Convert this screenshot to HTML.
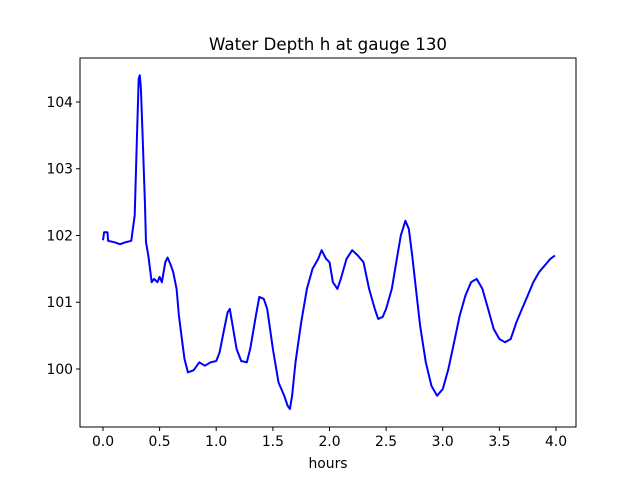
<!DOCTYPE html>
<html><head><style>
body{margin:0;background:#fff}
svg text{font-family:"DejaVu Sans","Liberation Sans",sans-serif;fill:#000}
</style></head><body>
<svg width="640" height="480" viewBox="0 0 640 480" xmlns="http://www.w3.org/2000/svg">
<rect width="640" height="480" fill="#fff"/>
<path id="line" d="" fill="none" stroke="#0000ff" stroke-width="2" stroke-linejoin="round"/>
<rect x="80" y="58" width="496" height="369" fill="none" stroke="#000" stroke-width="1"/>
<g stroke="#000" stroke-width="1">
<line x1="103" y1="427" x2="103" y2="431"/><line x1="159.6" y1="427" x2="159.6" y2="431"/>
<line x1="216.2" y1="427" x2="216.2" y2="431"/><line x1="272.9" y1="427" x2="272.9" y2="431"/>
<line x1="329.5" y1="427" x2="329.5" y2="431"/><line x1="386.1" y1="427" x2="386.1" y2="431"/>
<line x1="442.7" y1="427" x2="442.7" y2="431"/><line x1="499.4" y1="427" x2="499.4" y2="431"/>
<line x1="556" y1="427" x2="556" y2="431"/>
<line x1="76" y1="369" x2="80" y2="369"/><line x1="76" y1="302.25" x2="80" y2="302.25"/>
<line x1="76" y1="235.5" x2="80" y2="235.5"/><line x1="76" y1="168.75" x2="80" y2="168.75"/>
<line x1="76" y1="102" x2="80" y2="102"/>
</g>
<g font-size="13.9" text-anchor="middle">
<text x="103" y="446">0.0</text><text x="159.6" y="446">0.5</text><text x="216.2" y="446">1.0</text>
<text x="272.9" y="446">1.5</text><text x="329.5" y="446">2.0</text><text x="386.1" y="446">2.5</text>
<text x="442.7" y="446">3.0</text><text x="499.4" y="446">3.5</text><text x="556" y="446">4.0</text>
</g>
<g font-size="13.9" text-anchor="end">
<text x="73" y="374">100</text><text x="73" y="307">101</text><text x="73" y="240.5">102</text>
<text x="73" y="173.5">103</text><text x="73" y="107">104</text>
</g>
<text x="328" y="50" font-size="16.7" text-anchor="middle">Water Depth h at gauge 130</text>
<text x="328" y="468" font-size="13.9" text-anchor="middle">hours</text>
</svg>
<script>
var p=[0,101.93,0.01,102.05,0.04,102.05,0.045,101.92,0.1,101.9,0.15,101.87,0.2,101.9,0.25,101.92,0.26,102.05,0.28,102.3,0.3,103.5,0.315,104.35,0.325,104.4,0.335,104.2,0.35,103.5,0.37,102.5,0.38,101.9,0.4,101.7,0.43,101.3,0.45,101.35,0.48,101.3,0.5,101.38,0.52,101.3,0.55,101.6,0.57,101.67,0.6,101.55,0.62,101.45,0.65,101.2,0.67,100.8,0.7,100.4,0.72,100.15,0.75,99.95,0.8,99.98,0.85,100.1,0.9,100.05,0.95,100.1,1.0,100.12,1.03,100.25,1.07,100.6,1.1,100.85,1.12,100.9,1.15,100.6,1.18,100.3,1.22,100.12,1.27,100.1,1.3,100.3,1.35,100.8,1.38,101.08,1.42,101.05,1.45,100.9,1.5,100.3,1.55,99.8,1.6,99.6,1.63,99.45,1.65,99.4,1.67,99.6,1.7,100.1,1.75,100.7,1.8,101.2,1.85,101.5,1.9,101.65,1.93,101.78,1.97,101.65,2.0,101.6,2.03,101.3,2.07,101.2,2.1,101.35,2.15,101.65,2.2,101.78,2.25,101.7,2.3,101.6,2.35,101.2,2.4,100.9,2.43,100.75,2.47,100.78,2.5,100.9,2.55,101.2,2.6,101.7,2.63,102.0,2.67,102.22,2.7,102.1,2.73,101.7,2.77,101.1,2.8,100.65,2.85,100.1,2.9,99.75,2.95,99.6,3.0,99.7,3.05,100.0,3.1,100.4,3.15,100.8,3.2,101.1,3.25,101.3,3.3,101.35,3.35,101.2,3.4,100.9,3.45,100.6,3.5,100.45,3.55,100.4,3.6,100.45,3.65,100.7,3.7,100.9,3.75,101.1,3.8,101.3,3.85,101.45,3.9,101.55,3.95,101.65,3.99,101.7];
var d="";for(var i=0;i<p.length;i+=2){d+=(i?"L":"M")+(103+p[i]*113.25).toFixed(1)+","+(369-(p[i+1]-100)*66.75).toFixed(1);}
document.getElementById("line").setAttribute("d",d);
</script>
</body></html>
